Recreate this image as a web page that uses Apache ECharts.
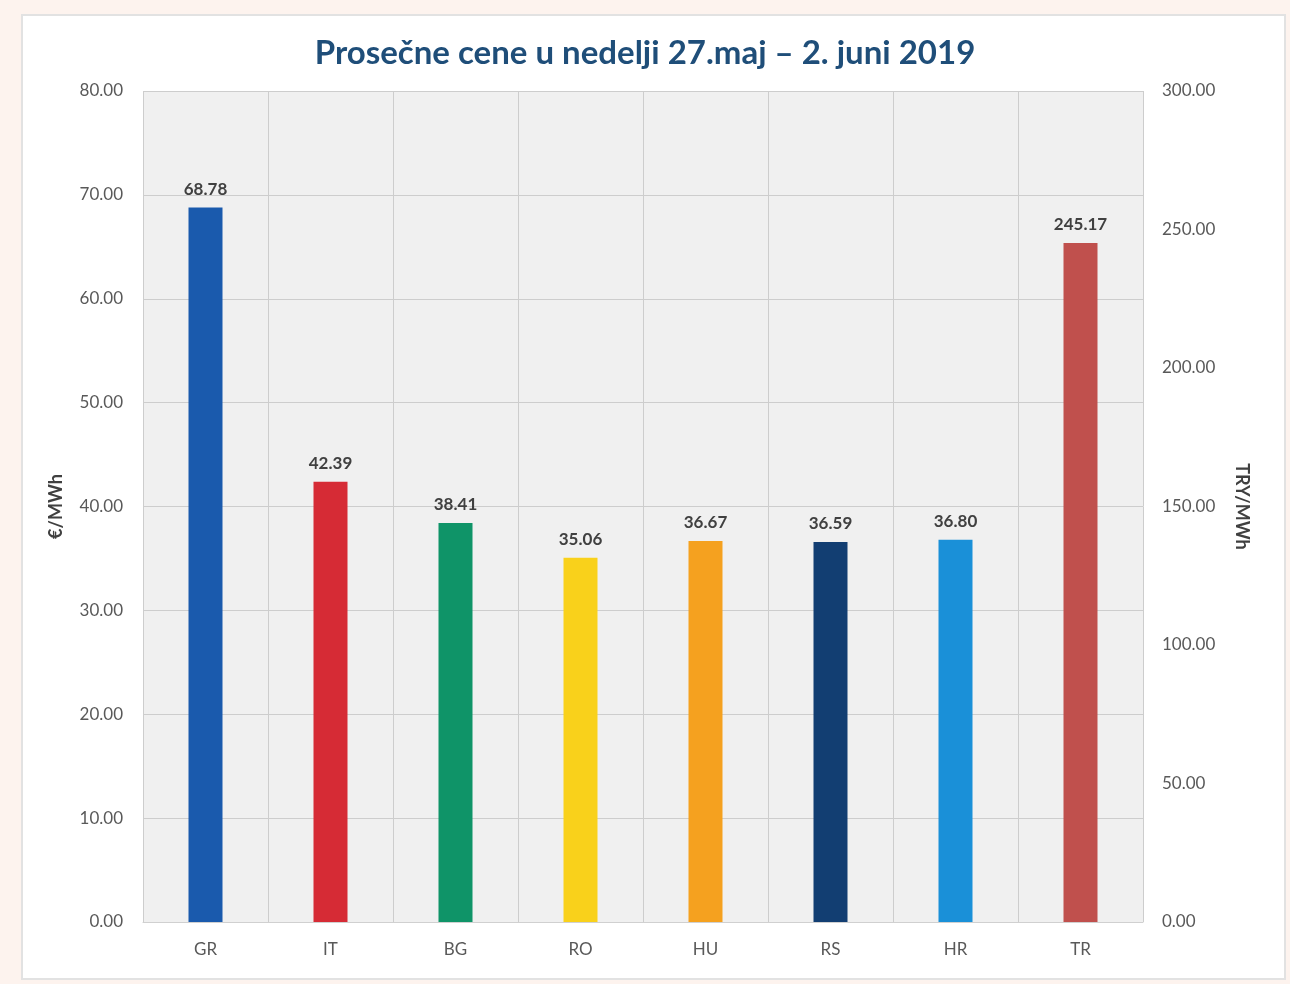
<!DOCTYPE html>
<html>
<head>
<meta charset="utf-8">
<script src="https://cdn.jsdelivr.net/npm/echarts@6/dist/echarts.min.js"></script>
<style>
html,body{margin:0;padding:0;background:#fdf3ee;}
#chart{width:1290px;height:984px;}
</style>
</head>
<body>
<div id="chart"></div>
<script>
const titleText = 'Prosečne cene u nedelji 27.maj – 2. juni 2019';
const categories = ['GR','IT','BG','RO','HU','RS','HR','TR'];
const eurValues = [68.78, 42.39, 38.41, 35.06, 36.67, 36.59, 36.80, null];
const tryValues = [null, null, null, null, null, null, null, 245.17];
const barColors = ['#1a5aad','#d62b35','#0f9468','#f9d11b','#f5a11f','#123e72','#1a90d8','#c0504d'];
const leftTicks = [0, 80, 10];
const rightTicks = [0, 300, 50];

const fontFam = 'Lato, "Open Sans", sans-serif';
const chart = echarts.init(document.getElementById('chart'), null, {renderer:'canvas'});

function colored(arr){
  return arr.map((v,i)=> v==null ? null : {value:v, itemStyle:{color:barColors[i]}});
}

chart.setOption({
  backgroundColor:'#fdf3ee',
  animation:false,
  graphic:[{
    type:'rect', z:-10, silent:true,
    shape:{x:22, y:15, width:1263, height:964},
    style:{fill:'#ffffff', stroke:'#e2e2e2', lineWidth:2}
  }],
  title:{
    text:titleText, left:'center', top:32,
    textStyle:{fontFamily:fontFam, fontSize:33, fontWeight:'bold', color:'#1f4e79'}
  },
  grid:{left:143, right:147, top:91, bottom:62, show:true, backgroundColor:'#f0f0f0', borderWidth:0},
  xAxis:{
    type:'category', data:categories,
    axisTick:{show:false},
    axisLine:{show:true, lineStyle:{color:'#d0d0d0'}},
    axisLabel:{fontFamily:fontFam, fontSize:17, color:'#595959', margin:19},
    splitLine:{show:true, lineStyle:{color:'#cdcdcd', width:1}}
  },
  yAxis:[{
    type:'value', min:leftTicks[0], max:leftTicks[1], interval:leftTicks[2],
    name:'€/MWh', nameLocation:'middle', nameGap:78, nameRotate:90,
    nameTextStyle:{fontFamily:fontFam, fontSize:18, fontWeight:'bold', color:'#404040'},
    axisLabel:{fontFamily:fontFam, fontSize:17, color:'#595959', margin:20, formatter:v=>v.toFixed(2)},
    axisLine:{show:false}, axisTick:{show:false},
    splitLine:{show:true, lineStyle:{color:'#cdcdcd', width:1}}
  },{
    type:'value', min:rightTicks[0], max:rightTicks[1], interval:rightTicks[2],
    name:'TRY/MWh', nameLocation:'middle', nameGap:90, nameRotate:-90,
    nameTextStyle:{fontFamily:fontFam, fontSize:18, fontWeight:'bold', color:'#404040'},
    axisLabel:{fontFamily:fontFam, fontSize:17, color:'#595959', margin:19, formatter:v=>v.toFixed(2)},
    axisLine:{show:false}, axisTick:{show:false},
    splitLine:{show:false}
  }],
  series:[{
    type:'bar', yAxisIndex:0, data:colored(eurValues), barWidth:34, barGap:'-100%',
    label:{show:true, position:'top', distance:10, fontFamily:fontFam, fontSize:17, fontWeight:'bold', color:'#404040', formatter:p=>p.value.toFixed(2)}
  },{
    type:'bar', yAxisIndex:1, data:colored(tryValues), barWidth:34, barGap:'-100%',
    label:{show:true, position:'top', distance:10, fontFamily:fontFam, fontSize:17, fontWeight:'bold', color:'#404040', formatter:p=>p.value.toFixed(2)}
  }]
});
</script>
</body>
</html>
